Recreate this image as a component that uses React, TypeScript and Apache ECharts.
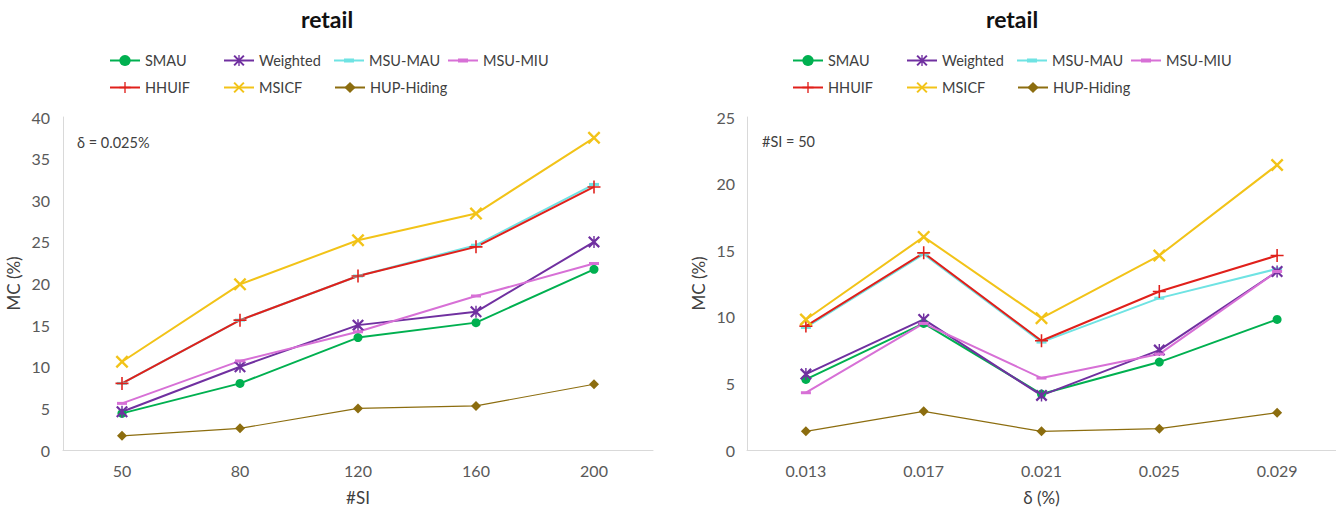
import React, { useEffect, useRef } from "react";
import * as echarts from "echarts";

const FONT = 'Lato, "Noto Sans", sans-serif';

// Categories
const siCategories = ["50", "80", "120", "160", "200"];
const deltaCategories = ["0.013", "0.017", "0.021", "0.025", "0.029"];

// Left chart (#SI varies, δ = 0.025%)
const smauSI = [4.4, 8.0, 13.5, 15.3, 21.7];
const weightedSI = [4.6, 10.0, 15.0, 16.6, 25.0];
const msuMauSI = [8.0, 15.6, 20.9, 24.6, 31.9];
const msuMiuSI = [5.6, 10.7, 14.2, 18.5, 22.4];
const hhuifSI = [8.0, 15.6, 20.9, 24.4, 31.6];
const msicfSI = [10.6, 19.9, 25.2, 28.4, 37.5];
const hupSI = [1.7, 2.6, 5.0, 5.3, 7.9];

// Right chart (δ varies, #SI = 50)
const smauD = [5.3, 9.5, 4.2, 6.6, 9.8];
const weightedD = [5.7, 9.8, 4.1, 7.5, 13.4];
const msuMauD = [9.2, 14.7, 8.1, 11.4, 13.6];
const msuMiuD = [4.3, 9.5, 5.4, 7.2, 13.4];
const hhuifD = [9.3, 14.8, 8.2, 11.9, 14.6];
const msicfD = [9.8, 16.0, 9.9, 14.6, 21.4];
const hupD = [1.4, 2.9, 1.4, 1.6, 2.8];

const leftYTicks = { min: 0, max: 40, interval: 5 };
const rightYTicks = { min: 0, max: 25, interval: 5 };

const SYM_X = "path://M0,1.3L1.3,0L10,8.7L8.7,10ZM8.7,0L10,1.3L1.3,10L0,8.7Z";
const SYM_PLUS = "path://M4.4,0H5.6V10H4.4ZM0,4.4H10V5.6H0Z";
const SYM_AST = "path://M0,1.3L1.3,0L10,8.7L8.7,10ZM8.7,0L10,1.3L1.3,10L0,8.7ZM4.4,0H5.6V10H4.4Z";
const SYM_DASH = "path://M0,0H10V3H0Z";
const LEGEND_DASH = "path://M0,1H30V3H0ZM10,0H20V4H10Z";

const seriesDefs = [
  { name: "MSU-MAU", color: "#6fe3e3", symbol: SYM_DASH, size: [10, 3], width: 2, left: msuMauSI, right: msuMauD },
  { name: "SMAU", color: "#00b050", symbol: "circle", size: 9, width: 2, left: smauSI, right: smauD },
  { name: "Weighted", color: "#7030a0", symbol: SYM_AST, size: 12, width: 2, left: weightedSI, right: weightedD },
  { name: "MSU-MIU", color: "#d770d6", symbol: SYM_DASH, size: [10, 3], width: 2, left: msuMiuSI, right: msuMiuD },
  { name: "HHUIF", color: "#e0201b", symbol: SYM_PLUS, size: 13, width: 2, left: hhuifSI, right: hhuifD },
  { name: "MSICF", color: "#f2c318", symbol: SYM_X, size: 13, width: 2, left: msicfSI, right: msicfD },
  { name: "HUP-Hiding", color: "#8c6d0f", symbol: "diamond", size: 10, width: 1.2, left: hupSI, right: hupD },
];

const legendItems = [
  { name: "SMAU", col: 0, row: 0, dash: false },
  { name: "Weighted", col: 1, row: 0, dash: false },
  { name: "MSU-MAU", col: 2, row: 0, dash: true },
  { name: "MSU-MIU", col: 3, row: 0, dash: true },
  { name: "HHUIF", col: 0, row: 1, dash: false },
  { name: "MSICF", col: 1, row: 1, dash: false },
  { name: "HUP-Hiding", col: 2, row: 1, dash: false },
];
const legendCols = [109, 223, 334, 448];
const legendRows = [60, 87];
const chartOffsets = [0, 683];

export default function App() {
  const ref = useRef<HTMLDivElement>(null);
  useEffect(() => {
    if (!ref.current) return;
    const chart = echarts.init(ref.current, undefined, { renderer: "svg" });

    const axisLabel = { color: "#595959", fontSize: 16, fontFamily: FONT };
    const axisName = { color: "#404040", fontSize: 17, fontFamily: FONT };
    const axisLine = { show: true, lineStyle: { color: "#d9d9d9", width: 1 } };

    const legends: any[] = [];
    chartOffsets.forEach((off) => {
      legendItems.forEach((it) => {
        legends.push({
          data: [it.dash ? { name: it.name, icon: LEGEND_DASH } : it.name],
          left: legendCols[it.col] + off,
          top: legendRows[it.row] - 7,
          padding: 0,
          itemWidth: 30,
          itemHeight: it.dash ? 4 : 14,
          selectedMode: false,
          textStyle: { color: "#404040", fontSize: 14.5, fontFamily: FONT },
        });
      });
    });

    const series: any[] = [];
    [0, 1].forEach((gi) => {
      seriesDefs.forEach((s) => {
        series.push({
          type: "line",
          name: s.name,
          xAxisIndex: gi,
          yAxisIndex: gi,
          data: gi === 0 ? s.left : s.right,
          symbol: s.symbol,
          symbolSize: s.size,
          showAllSymbol: true,
          lineStyle: { color: s.color, width: s.width },
          itemStyle: { color: s.color },
          emphasis: { disabled: true },
        });
      });
    });

    chart.setOption({
      animation: false,
      backgroundColor: "#ffffff",
      grid: [
        { left: 63, top: 117, width: 590, height: 335 },
        { left: 747, top: 117, width: 589, height: 335 },
      ],
      legend: legends,
      xAxis: [
        {
          type: "category",
          gridIndex: 0,
          data: siCategories,
          boundaryGap: true,
          axisLine,
          axisTick: { show: false },
          axisLabel: { ...axisLabel, margin: 12 },
          name: "#SI",
          nameLocation: "middle",
          nameGap: 39,
          nameTextStyle: axisName,
        },
        {
          type: "category",
          gridIndex: 1,
          data: deltaCategories,
          boundaryGap: true,
          axisLine,
          axisTick: { show: false },
          axisLabel: { ...axisLabel, margin: 12 },
          name: "δ (%)",
          nameLocation: "middle",
          nameGap: 39,
          nameTextStyle: axisName,
        },
      ],
      yAxis: [
        {
          type: "value",
          gridIndex: 0,
          ...leftYTicks,
          axisLine,
          axisTick: { show: false },
          splitLine: { show: false },
          axisLabel: { ...axisLabel, margin: 13 },
          name: "MC (%)",
          nameLocation: "middle",
          nameGap: 41,
          nameTextStyle: axisName,
        },
        {
          type: "value",
          gridIndex: 1,
          ...rightYTicks,
          axisLine,
          axisTick: { show: false },
          splitLine: { show: false },
          axisLabel: { ...axisLabel, margin: 12 },
          name: "MC (%)",
          nameLocation: "middle",
          nameGap: 40,
          nameTextStyle: axisName,
        },
      ],
      graphic: [
        {
          type: "text",
          x: 327,
          y: 19,
          style: { text: "retail", align: "center", verticalAlign: "middle", fill: "#111", font: `bold 23px ${FONT}` },
        },
        {
          type: "text",
          x: 1012,
          y: 19,
          style: { text: "retail", align: "center", verticalAlign: "middle", fill: "#111", font: `bold 23px ${FONT}` },
        },
        {
          type: "text",
          x: 77,
          y: 142,
          style: { text: "δ = 0.025%", align: "left", verticalAlign: "middle", fill: "#404040", font: `14.5px ${FONT}` },
        },
        {
          type: "text",
          x: 762,
          y: 141,
          style: { text: "#SI = 50", align: "left", verticalAlign: "middle", fill: "#404040", font: `14.5px ${FONT}` },
        },
      ],
      series,
    });

    return () => chart.dispose();
  }, []);

  return (
    <div
      ref={ref}
      style={{ position: "fixed", left: 0, top: 0, width: 1336, height: 511, background: "#fff" }}
    />
  );
}
